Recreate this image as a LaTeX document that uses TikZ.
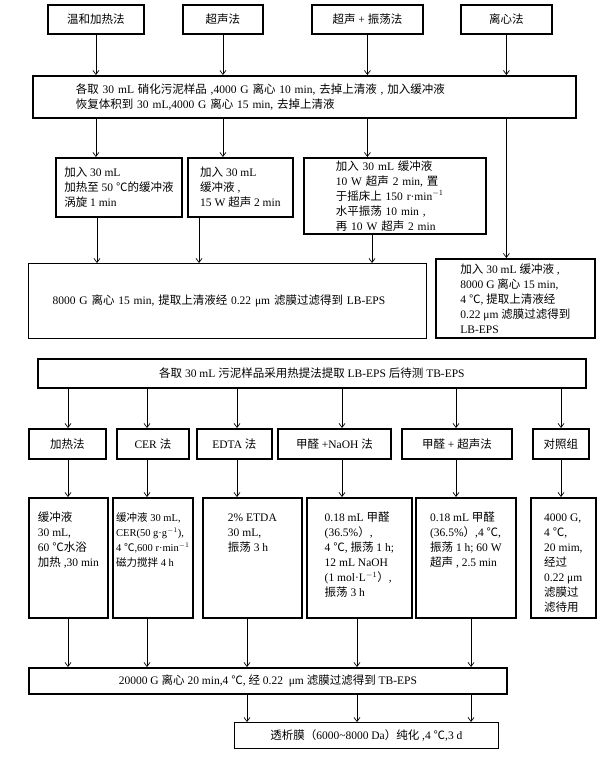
\documentclass[tikz,border=0pt]{standalone}
\usepackage{fontspec}
\setmainfont{Liberation Serif}
\newfontfamily\cjk{Noto Sans CJK SC}
\usetikzlibrary{arrows.meta}

% Chinese characters switch to the CJK font by themselves
\XeTeXinterchartokenstate=1
\newXeTeXintercharclass\zhclass
\count255="3000
\loop
  \XeTeXcharclass\count255=\zhclass
  \advance\count255 by 1
\ifnum\count255<"A000 \repeat
\count255="FF00
\loop
  \XeTeXcharclass\count255=\zhclass
  \advance\count255 by 1
\ifnum\count255<"FFF0 \repeat
\XeTeXcharclass"2103=\zhclass
\XeTeXinterchartoks 0 \zhclass={\cjk}
\XeTeXinterchartoks 4095 \zhclass={\cjk}
\XeTeXinterchartoks \zhclass 0={\rmfamily}
\XeTeXinterchartoks \zhclass 4095={\rmfamily}

\newcommand{\toplines}[1]{\begin{tabular}[t]{@{}l@{}}#1\end{tabular}}

\begin{document}
\begin{tikzpicture}[x=1pt,y=-1pt,
  font=\fontsize{11.5}{15}\selectfont,
  box/.style={draw,line width=1.8pt,anchor=north west,inner sep=2pt,align=center},
  thinbox/.style={box,line width=1.1pt},
  detail/.style={box,inner ysep=10pt,text height=14pt,text depth=86pt,minimum height=120pt},
  arr/.style={-{Straight Barb[length=4pt,width=6pt]},line width=0.7pt}
]
\useasboundingbox (0,0) rectangle (602,757);

% LB-EPS part
\node[box,minimum width=96pt,minimum height=29pt]  (t1) at (47,4)  {温和加热法};
\node[box,minimum width=80pt,minimum height=29pt]  (t2) at (182,4) {超声法};
\node[box,minimum width=111pt,minimum height=29pt] (t3) at (311,4) {超声 + 振荡法};
\node[box,minimum width=91pt,minimum height=29pt]  (t4) at (460,4) {离心法};

\node[box,minimum width=543pt,minimum height=42pt,text width=457pt,inner xsep=43pt,align=left] (b0) at (32,75)
  {各取 30 mL 硝化污泥样品 ,4000 G 离心 10 min, 去掉上清液 , 加入缓冲液\\
   恢复体积到 30 mL,4000 G 离心 15 min, 去掉上清液};

\node[box,minimum width=126pt,minimum height=59pt,align=left] (c1) at (55,157)
  {加入 30 mL\\加热至 50 ℃的缓冲液\\涡旋 1 min};
\node[box,minimum width=105pt,minimum height=59pt,align=left] (c2) at (187,157)
  {加入 30 mL\\缓冲液 ,\\15 W 超声 2 min};
\node[box,minimum width=182pt,minimum height=76pt,text width=118pt,inner xsep=32pt,align=left] (c3) at (303,157)
  {加入 30 mL 缓冲液\\10 W 超声 2 min, 置\\于摇床上 150 r·min$^{-1}$\\水平振荡 10 min ,\\再 10 W 超声 2 min};

\node[thinbox,minimum width=398pt,minimum height=75pt,text width=350pt,inner xsep=24pt,align=left] (lb1) at (28,263)
  {8000 G 离心 15 min, 提取上清液经 0.22 μm 滤膜过滤得到 LB-EPS};
\node[box,minimum width=159pt,minimum height=79pt,align=left] (lb2) at (435,258)
  {加入 30 mL 缓冲液 ,\\8000 G 离心 15 min,\\4 ℃, 提取上清液经\\0.22 μm 滤膜过滤得到\\LB-EPS};

\draw[arr] (t1) -- (t1 |- b0.north);
\draw[arr] (t2) -- (t2 |- b0.north);
\draw[arr] (t3) -- (t3 |- b0.north);
\draw[arr] (t4) -- (t4 |- b0.north);
\draw[arr] (t1 |- b0.south) -- (t1 |- c1.north);
\draw[arr] (t2 |- b0.south) -- (t2 |- c2.north);
\draw[arr] (t3 |- b0.south) -- (t3 |- c3.north);
\draw[arr] (t4 |- b0.south) -- (t4 |- lb2.north);
\draw[arr] (97,0 |- c1.south) -- (97,0 |- lb1.north);
\draw[arr] (199,0 |- c2.south) -- (199,0 |- lb1.north);
\draw[arr] (372,0 |- c3.south) -- (372,0 |- lb1.north);

% TB-EPS part
\node[box,minimum width=548pt,minimum height=29pt] (tb) at (37,358)
  {各取 30 mL 污泥样品采用热提法提取 LB-EPS 后待测 TB-EPS};

\node[box,minimum width=77pt,minimum height=30pt]  (m1) at (28,428)  {加热法};
\node[box,minimum width=72pt,minimum height=30pt]  (m2) at (116,428) {CER 法};
\node[box,minimum width=75pt,minimum height=30pt]  (m3) at (196,428) {EDTA 法};
\node[box,minimum width=113pt,minimum height=30pt] (m4) at (277,428) {甲醛 +NaOH 法};
\node[box,minimum width=110pt,minimum height=30pt] (m5) at (401,428) {甲醛 + 超声法};
\node[box,minimum width=56pt,minimum height=30pt]  (m6) at (532,428) {对照组};

\node[detail,minimum width=79pt]  (d1) at (28,497)
  {\toplines{缓冲液\\30 mL,\\60 ℃水浴\\加热 ,30 min}};
\node[detail,minimum width=80pt,font=\fontsize{10.5}{15}\selectfont] (d2) at (112,497)
  {\toplines{缓冲液 30 mL,\\CER(50 g·g$^{-1}$),\\4 ℃,600 r·min$^{-1}$\\磁力搅拌 4 h}};
\node[detail,minimum width=99pt]  (d3) at (202,497)
  {\toplines{2\% ETDA\\30 mL,\\振荡 3 h}};
\node[detail,minimum width=105pt] (d4) at (306,497)
  {\toplines{0.18 mL 甲醛\\(36.5\%）,\\4 ℃, 振荡 1 h;\\12 mL NaOH\\(1 mol·L$^{-1}$）,\\振荡 3 h}};
\node[detail,minimum width=100pt] (d5) at (415,497)
  {\toplines{0.18 mL 甲醛\\(36.5\%）,4 ℃,\\振荡 1 h; 60 W\\超声 , 2.5 min}};
\node[detail,minimum width=65pt]  (d6) at (530,497)
  {\toplines{4000 G,\\4 ℃,\\20 mim,\\经过\\0.22 μm\\滤膜过\\滤待用}};

\node[box,minimum width=478pt,minimum height=26pt] (e1) at (28,667)
  {20000 G 离心 20 min,4 ℃, 经 0.22 \ μm 滤膜过滤得到 TB-EPS};
\node[box,line width=0.8pt,minimum width=264pt,minimum height=26pt] (e2) at (234,722)
  {透析膜（6000\textasciitilde 8000 Da）纯化 ,4 ℃,3 d};

\draw[arr] (68,0 |- tb.south) -- (68,0 |- m1.north);
\draw[arr] (147,0 |- tb.south) -- (147,0 |- m2.north);
\draw[arr] (237,0 |- tb.south) -- (237,0 |- m3.north);
\draw[arr] (342,0 |- tb.south) -- (342,0 |- m4.north);
\draw[arr] (456,0 |- tb.south) -- (456,0 |- m5.north);
\draw[arr] (561,0 |- tb.south) -- (561,0 |- m6.north);
\draw[arr] (68,0 |- m1.south) -- (68,0 |- d1.north);
\draw[arr] (147,0 |- m2.south) -- (147,0 |- d2.north);
\draw[arr] (237,0 |- m3.south) -- (237,0 |- d3.north);
\draw[arr] (342,0 |- m4.south) -- (342,0 |- d4.north);
\draw[arr] (456,0 |- m5.south) -- (456,0 |- d5.north);
\draw[arr] (561,0 |- m6.south) -- (561,0 |- d6.north);
\draw[arr] (68,0 |- d1.south) -- (68,0 |- e1.north);
\draw[arr] (147,0 |- d2.south) -- (147,0 |- e1.north);
\draw[arr] (247,0 |- d3.south) -- (247,0 |- e1.north);
\draw[arr] (357,0 |- d4.south) -- (357,0 |- e1.north);
\draw[arr] (471,0 |- d5.south) -- (471,0 |- e1.north);
\draw[arr] (247,0 |- e1.south) -- (247,0 |- e2.north);
\draw[arr] (357,0 |- e1.south) -- (357,0 |- e2.north);
\draw[arr] (471,0 |- e1.south) -- (471,0 |- e2.north);
\end{tikzpicture}
\end{document}
